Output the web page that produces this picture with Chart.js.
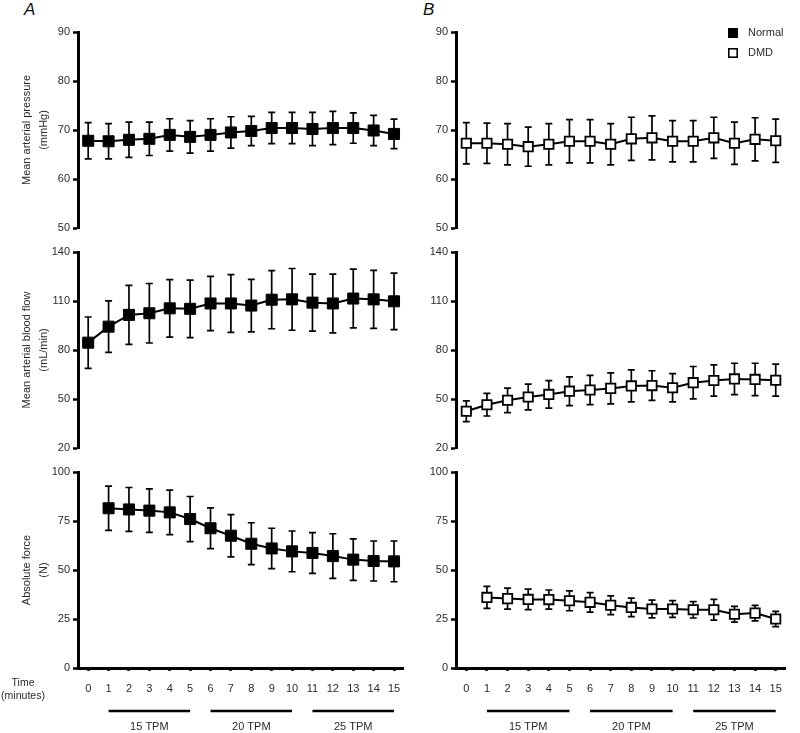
<!DOCTYPE html>
<html>
<head>
<meta charset="utf-8">
<script src="https://cdn.jsdelivr.net/npm/chart.js@4.4.1/dist/chart.umd.min.js"></script>
<style>
  body { margin: 0; background: #fff; }
  #wrap { position: relative; width: 800px; height: 733px; overflow: hidden; }
  canvas { position: absolute; }
  .panel { position: absolute; top: 0; font: italic 17px "Liberation Sans", Arial, sans-serif; color: #111; }
</style>
</head>
<body>
<div id="wrap">
  <div class="panel" style="left:24px">A</div>
  <div class="panel" style="left:423px">B</div>
  <canvas id="aMap" width="412" height="240" style="left:0;top:0"></canvas>
  <canvas id="aFlow" width="412" height="220" style="left:0;top:240px"></canvas>
  <canvas id="aForce" width="412" height="273" style="left:0;top:460px"></canvas>
  <canvas id="bMap" width="388" height="240" style="left:412px;top:0"></canvas>
  <canvas id="bFlow" width="388" height="220" style="left:412px;top:240px"></canvas>
  <canvas id="bForce" width="388" height="273" style="left:412px;top:460px"></canvas>
</div>
<script>
// time points (minutes)
const minutes = [0, 1, 2, 3, 4, 5, 6, 7, 8, 9, 10, 11, 12, 13, 14, 15];

// Normal (panel A)
const mapNormal = [67.8, 67.7, 68.0, 68.2, 69.0, 68.6, 69.0, 69.5, 69.8, 70.4, 70.4, 70.2, 70.4, 70.4, 69.9, 69.2];
const mapNormalSd = [3.7, 3.6, 3.6, 3.4, 3.3, 3.3, 3.3, 3.2, 3.0, 3.2, 3.2, 3.4, 3.4, 3.1, 3.1, 3.0];
const flowNormal = [84.5, 94.3, 101.5, 102.5, 105.5, 105.2, 108.5, 108.5, 107.2, 110.8, 111.0, 109.0, 108.5, 111.5, 111.0, 109.8];
const flowNormalSd = [15.7, 15.8, 18.1, 18.2, 17.6, 17.6, 16.6, 17.7, 16.1, 17.8, 18.9, 17.4, 18.0, 18.0, 17.8, 17.3];
const forceNormal = [null, 81.5, 80.9, 80.3, 79.4, 76.0, 71.3, 67.5, 63.4, 61.0, 59.5, 58.7, 57.1, 55.3, 54.6, 54.4];
const forceNormalSd = [0, 11.3, 11.2, 11.1, 11.4, 11.5, 10.4, 10.8, 10.7, 10.3, 10.4, 10.4, 11.4, 10.6, 10.2, 10.4];

// DMD (panel B)
const mapDmd = [67.3, 67.3, 67.1, 66.6, 67.1, 67.7, 67.7, 67.1, 68.2, 68.4, 67.7, 67.7, 68.4, 67.3, 68.1, 67.8];
const mapDmdSd = [4.2, 4.1, 4.2, 4.0, 4.2, 4.4, 4.4, 4.2, 4.4, 4.5, 4.2, 4.2, 4.2, 4.3, 4.4, 4.4];
const flowDmd = [42.5, 46.5, 49.2, 51.2, 52.8, 54.8, 55.5, 56.5, 58.0, 58.2, 56.9, 60.0, 61.3, 62.3, 62.0, 61.5];
const flowDmdSd = [6.4, 6.9, 7.5, 7.9, 8.4, 8.8, 9.0, 9.5, 9.8, 9.1, 8.6, 9.9, 9.6, 9.6, 9.9, 9.8];
const forceDmd = [null, 36.0, 35.4, 35.0, 34.9, 34.3, 33.5, 32.0, 30.9, 30.1, 30.1, 29.7, 29.7, 27.4, 28.0, 25.0];
const forceDmdSd = [0, 5.6, 5.4, 5.2, 4.9, 5.1, 5.0, 4.8, 4.7, 4.5, 4.3, 4.2, 5.3, 4.0, 4.0, 3.9];

// y axis ranges + titles
const mapTicks = [50, 60, 70, 80, 90];
const flowTicks = [20, 50, 80, 110, 140];
const forceTicks = [0, 25, 50, 75, 100];
const mapTitle = ['Mean arterial pressure', '(mmHg)'];
const flowTitle = ['Mean arterial blood flow', '(mL/min)'];
const forceTitle = ['Absolute force', '(N)'];

// legend + protocol blocks
const groupNames = ['Normal', 'DMD'];
const stages = ['15 TPM', '20 TPM', '25 TPM'];
const stageStart = [1, 6, 11];
const stageEnd = [5, 10, 15];

const FONT = '"Liberation Sans", Arial, Helvetica, sans-serif';
const TXT = '#2a2a2a';

const errorBars = {
  id: 'errorBars',
  beforeDatasetsDraw(chart) {
    const { ctx, scales: { x, y } } = chart;
    chart.data.datasets.forEach((ds) => {
      ctx.save();
      ctx.strokeStyle = '#000';
      ctx.lineWidth = 1.7;
      ds.data.forEach((p, i) => {
        if (p.y == null) return;
        const px = x.getPixelForValue(p.x);
        const top = y.getPixelForValue(p.y + ds.sd[i]);
        const bot = y.getPixelForValue(p.y - ds.sd[i]);
        ctx.beginPath();
        ctx.moveTo(px, top); ctx.lineTo(px, bot);
        ctx.moveTo(px - 3.5, top); ctx.lineTo(px + 3.5, top);
        ctx.moveTo(px - 3.5, bot); ctx.lineTo(px + 3.5, bot);
        ctx.stroke();
      });
      ctx.restore();
    });
  }
};

// bars under the x axis + time label
const stagePlugin = {
  id: 'stages',
  afterDraw(chart, args, opts) {
    if (!opts.show) return;
    const { ctx, scales: { x, y } } = chart;
    ctx.save();
    ctx.strokeStyle = '#000';
    ctx.lineWidth = 2.5;
    ctx.fillStyle = TXT;
    ctx.font = '11px ' + FONT;
    ctx.textAlign = 'center';
    ctx.textBaseline = 'middle';
    stages.forEach((s, i) => {
      const x0 = x.getPixelForValue(stageStart[i]);
      const x1 = x.getPixelForValue(stageEnd[i]);
      ctx.beginPath();
      ctx.moveTo(x0, x.top + 43);
      ctx.lineTo(x1, x.top + 43);
      ctx.stroke();
      ctx.fillText(s, (x0 + x1) / 2, x.top + 59);
    });
    if (opts.timeLabel) {
      ctx.font = '10.5px ' + FONT;
      ctx.fillText('Time', y.left + 23, x.top + 15);
      ctx.fillText('(minutes)', y.left + 23, x.top + 28);
    }
    ctx.restore();
  }
};

const legendPlugin = {
  id: 'sideLegend',
  afterDraw(chart, args, opts) {
    if (!opts.show) return;
    const { ctx, chartArea } = chart;
    ctx.save();
    ctx.font = '11px ' + FONT;
    ctx.textBaseline = 'middle';
    groupNames.forEach((name, i) => {
      const cx = chartArea.right - 52;
      const cy = 33 + i * 20;
      if (i === 0) {
        ctx.fillStyle = '#000';
        ctx.fillRect(cx - 5, cy - 5, 10, 10);
      } else {
        ctx.strokeStyle = '#000';
        ctx.lineWidth = 1.6;
        ctx.strokeRect(cx - 4.2, cy - 4.2, 8.4, 8.4);
      }
      ctx.fillStyle = TXT;
      ctx.fillText(name, cx + 15, cy);
    });
    ctx.restore();
  }
};

function makeChart(id, opt) {
  const filled = opt.group === 0;
  new Chart(document.getElementById(id), {
    type: 'line',
    data: {
      datasets: [{
        label: groupNames[opt.group],
        data: minutes.map((m, i) => ({ x: m, y: opt.values[i] })),
        sd: opt.sd,
        borderColor: '#000',
        borderWidth: 2,
        pointStyle: 'rect',
        pointRadius: filled ? 7.8 : 6.6,
        pointBorderWidth: filled ? 1 : 1.8,
        pointBackgroundColor: filled ? '#000' : '#fff',
        pointBorderColor: '#000',
        tension: 0
      }]
    },
    options: {
      responsive: false,
      animation: false,
      events: [],
      layout: { padding: { top: opt.padTop, bottom: opt.bottomAxis ? 0 : 12, left: 0, right: opt.padRight } },
      plugins: {
        legend: { display: false },
        tooltip: { enabled: false },
        stages: { show: opt.bottomAxis, timeLabel: opt.group === 0 },
        sideLegend: { show: !!opt.legend }
      },
      scales: {
        x: {
          type: 'linear',
          display: opt.bottomAxis,
          min: -0.5,
          max: 15.45,
          afterBuildTicks: (s) => { s.ticks = minutes.map((v) => ({ value: v })); },
          afterFit: (s) => { s.height = opt.bottomAxis ? 65 : 0; },
          border: { display: true, color: '#000', width: 3 },
          grid: { display: true, drawOnChartArea: false, drawTicks: true, tickLength: 3, tickWidth: 2.5, tickColor: '#000' },
          ticks: { color: TXT, font: { family: FONT, size: 11 }, padding: 11, maxRotation: 0, autoSkip: false }
        },
        y: {
          min: opt.ticks[0],
          max: opt.ticks[opt.ticks.length - 1],
          afterBuildTicks: (s) => { s.ticks = opt.ticks.map((v) => ({ value: v })); },
          afterFit: (s) => { s.width = opt.axisWidth; },
          border: { display: true, color: '#000', width: 3 },
          grid: { display: true, drawOnChartArea: false, drawTicks: true, tickLength: 5, tickWidth: 2.5, tickColor: '#000' },
          ticks: { color: TXT, font: { family: FONT, size: 11 }, padding: 3 },
          title: {
            display: !!opt.title,
            text: opt.title,
            color: TXT,
            font: { family: FONT, size: 11, lineHeight: 1.55 },
            padding: { top: 18, bottom: 0 }
          }
        }
      }
    },
    plugins: [errorBars, stagePlugin, legendPlugin]
  });
}

makeChart('aMap', { group: 0, values: mapNormal, sd: mapNormalSd, ticks: mapTicks, title: mapTitle, axisWidth: 78, padTop: 32, padRight: 4, bottomAxis: false });
makeChart('aFlow', { group: 0, values: flowNormal, sd: flowNormalSd, ticks: flowTicks, title: flowTitle, axisWidth: 78, padTop: 12, padRight: 4, bottomAxis: false });
makeChart('aForce', { group: 0, values: forceNormal, sd: forceNormalSd, ticks: forceTicks, title: forceTitle, axisWidth: 78, padTop: 12, padRight: 4, bottomAxis: true });
makeChart('bMap', { group: 1, values: mapDmd, sd: mapDmdSd, ticks: mapTicks, title: null, axisWidth: 44, padTop: 32, padRight: 15, bottomAxis: false, legend: true });
makeChart('bFlow', { group: 1, values: flowDmd, sd: flowDmdSd, ticks: flowTicks, title: null, axisWidth: 44, padTop: 12, padRight: 15, bottomAxis: false });
makeChart('bForce', { group: 1, values: forceDmd, sd: forceDmdSd, ticks: forceTicks, title: null, axisWidth: 44, padTop: 12, padRight: 15, bottomAxis: true });
</script>
</body>
</html>
